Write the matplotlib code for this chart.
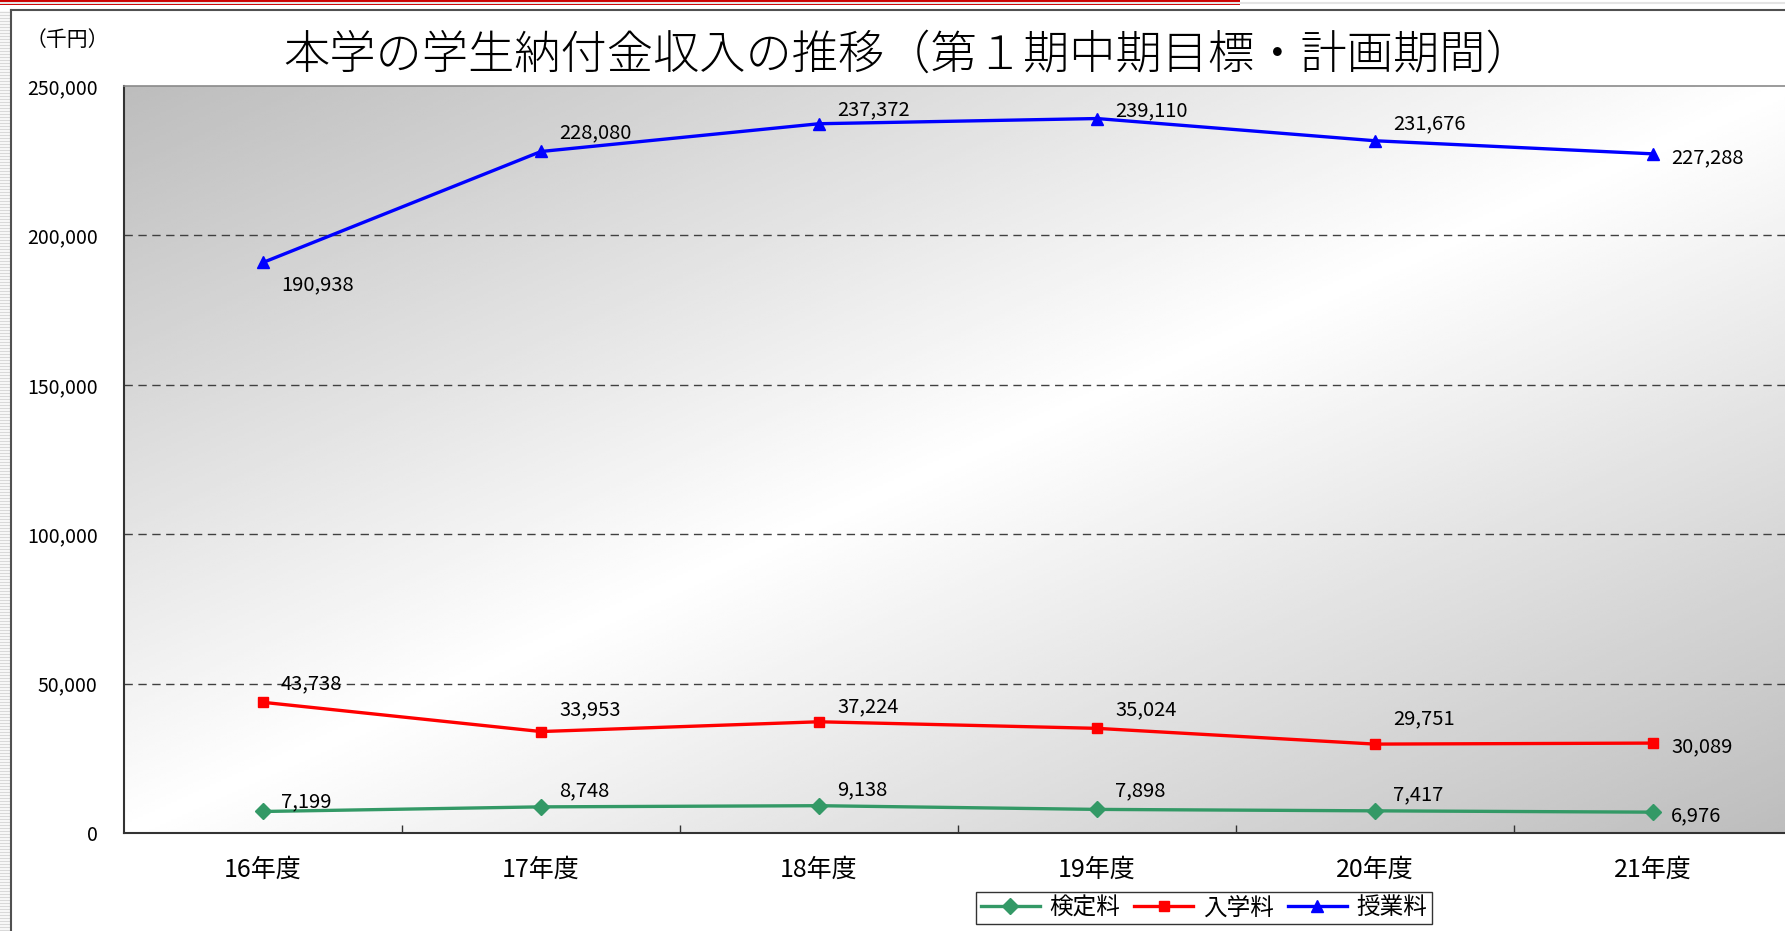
import matplotlib
matplotlib.use('Agg')
import matplotlib.pyplot as plt
import numpy as np
from matplotlib.lines import Line2D
from matplotlib.patches import Rectangle
from matplotlib.ticker import FuncFormatter

plt.rcParams['font.family'] = ['Noto Sans CJK JP', 'DejaVu Sans']

# データ（千円）
nendo = ['16年度', '17年度', '18年度', '19年度', '20年度', '21年度']
kentei = [7199, 8748, 9138, 7898, 7417, 6976]
nyugaku = [43738, 33953, 37224, 35024, 29751, 30089]
jugyo = [190938, 228080, 237372, 239110, 231676, 227288]

title = '本学の学生納付金収入の推移（第１期中期目標・計画期間）'

W, H, DPI = 1785, 931, 100
fig = plt.figure(figsize=(W / DPI, H / DPI), dpi=DPI)
fig.patch.set_facecolor('white')

# 枠と飾り
def fx(px):
    return px / W

def fy(py):
    return 1 - py / H

for py in range(12, H, 3):
    fig.add_artist(Line2D([0, fx(10)], [fy(py), fy(py)], color='#d9d9d9', lw=1.0))
fig.add_artist(Line2D([fx(11), fx(11)], [fy(10), 0], color='#505050', lw=1.5))
fig.add_artist(Line2D([fx(11), 1], [fy(10), fy(10)], color='#505050', lw=1.5))
fig.add_artist(Line2D([0, 1], [fy(3), fy(3)], color='#e4e4e4', lw=1.5))
fig.add_artist(Rectangle((0, fy(5)), fx(1240), 5 / H, transform=fig.transFigure,
                         facecolor='#cc0000', edgecolor='none'))

ax = fig.add_axes([124 / W, (H - 833) / H, (1792 - 124) / W, 747 / H])
ax.set_xlim(-0.5, 5.5)
ax.set_ylim(0, 250000)

# 背景グラデーション
u = np.linspace(0, 1, 300)[None, :]
w = np.linspace(0, 1, 300)[:, None]
grad = 1 - 0.26 * np.abs(u + w - 1)
ax.imshow(grad, cmap='gray', vmin=0, vmax=1, extent=(-0.5, 5.5, 0, 250000),
          aspect='auto', origin='upper', zorder=0, interpolation='bilinear')

for yv in [50000, 100000, 150000, 200000]:
    ax.axhline(yv, color='#404040', lw=1.0, ls=(0, (6, 4)), zorder=1)

x = np.arange(len(nendo))
series = [
    ('検定料', kentei, '#339966', 'D', 8),
    ('入学料', nyugaku, '#ff0000', 's', 7),
    ('授業料', jugyo, '#0000ff', '^', 8),
]
for name, vals, color, mk, ms in series:
    ax.plot(x, vals, color=color, lw=2.4, marker=mk, markersize=ms,
            label=name, zorder=3)

# ラベル位置（ピクセル）
dy = {
    '検定料': [10, 16, 16, 19, 16, -4],
    '入学料': [19, 22, 15, 19, 25, -4],
    '授業料': [-22, 19, 14, 8, 17, -4],
}
for name, vals, color, mk, ms in series:
    for i, v in enumerate(vals):
        ax.annotate(f'{v:,}', (x[i], v), xytext=(18, dy[name][i]),
                    textcoords='offset pixels', ha='left', va='center',
                    fontsize=14.5, color='black', zorder=4)

ax.set_xticks(x)
ax.set_xticklabels(nendo, fontsize=18)
ax.set_xticks(x[:-1] + 0.5, minor=True)
ax.tick_params(axis='x', which='major', length=0, pad=17)
ax.tick_params(axis='x', which='minor', direction='in', length=6, width=1, color='#333333')
ax.set_yticks([0, 50000, 100000, 150000, 200000, 250000])
ax.yaxis.set_major_formatter(FuncFormatter(lambda v, p: f'{int(v):,}'))
ax.tick_params(axis='y', length=0, pad=19, labelsize=14)

ax.spines['left'].set_color('#333333')
ax.spines['left'].set_linewidth(1.5)
ax.spines['bottom'].set_color('#333333')
ax.spines['bottom'].set_linewidth(1.5)
ax.spines['top'].set_color('#8a8a8a')
ax.spines['top'].set_linewidth(1.2)
ax.spines['right'].set_visible(False)

fig.text(908 / W, fy(56), title, ha='center', va='center', fontsize=33.3,
         fontweight='light')
fig.text(fx(67), fy(40), '（千円）', ha='center', va='center', fontsize=15)

leg = fig.legend(loc='center', bbox_to_anchor=(1204 / W, 1 - 908 / H), ncol=3,
                 fontsize=17, frameon=True, fancybox=False, edgecolor='black',
                 handlelength=2.5, columnspacing=0.6, handletextpad=0.4,
                 borderpad=0.2, borderaxespad=0)
leg.get_frame().set_linewidth(1.0)

plt.savefig('out.png', dpi=DPI)
plt.close(fig)
